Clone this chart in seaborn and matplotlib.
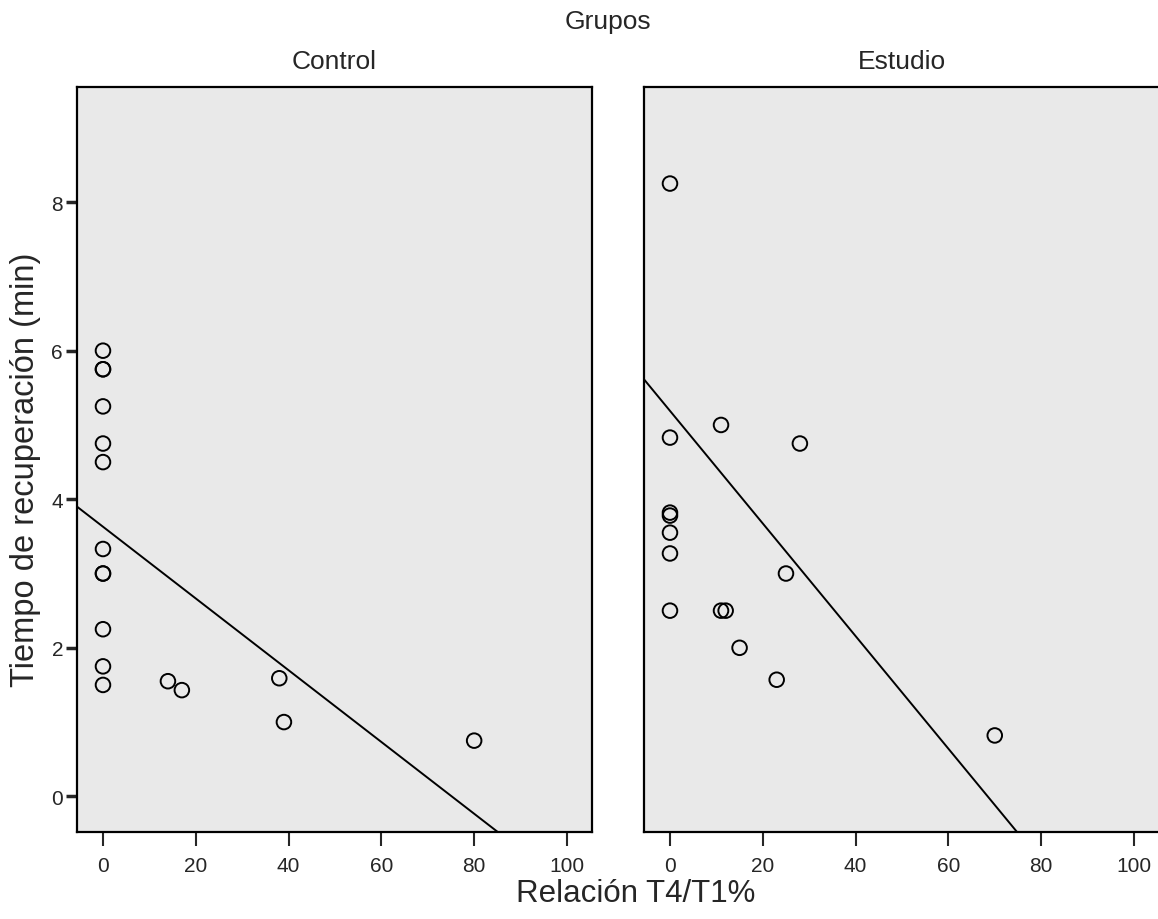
import pandas as pd
import numpy as np
import matplotlib
matplotlib.use('Agg')
import matplotlib.pyplot as plt
import seaborn as sns

# datos
control_x = [0, 0, 0, 0, 0, 0, 0, 0, 0, 0, 0, 0, 14, 17, 38, 39, 80]
control_y = [6.0, 5.75, 5.75, 5.25, 4.75, 4.5, 3.33, 3.0, 3.0, 2.25, 1.75, 1.5,
             1.55, 1.43, 1.59, 1.0, 0.75]
estudio_x = [0, 0, 0, 0, 0, 0, 0, 11, 11, 12, 28, 25, 15, 23, 70]
estudio_y = [8.25, 4.83, 3.82, 3.78, 3.55, 3.27, 2.5, 5.0, 2.5, 2.5, 4.75, 3.0,
             2.0, 1.57, 0.82]

grupos = ['Control', 'Estudio']
# recta de ajuste de cada grupo (intercepto, pendiente)
fit_intercept = [3.63, 5.19]
fit_slope = [-0.0483, -0.0758]

xticks = [0, 20, 40, 60, 80, 100]
yticks = [0, 2, 4, 6, 8]

df = pd.DataFrame({
    'grupo': ['Control'] * len(control_x) + ['Estudio'] * len(estudio_x),
    'relacion': control_x + estudio_x,
    'tiempo': control_y + estudio_y,
})

sns.set_style('white')
plt.rcParams['font.family'] = ['Liberation Sans', 'DejaVu Sans']

fig = plt.figure(figsize=(11.58, 9.2), dpi=100)
W, H = 1158, 920
ax1 = fig.add_axes([77 / W, 87 / H, 515 / W, 745 / H])
ax2 = fig.add_axes([644 / W, 87 / H, 515 / W, 745 / H])
axes = [ax1, ax2]

for i, (ax, g) in enumerate(zip(axes, grupos)):
    sub = df[df['grupo'] == g]
    ax.set_facecolor('#e9e9e9')
    sns.scatterplot(data=sub, x='relacion', y='tiempo', ax=ax, marker='o',
                    s=110, facecolor='none', edgecolor='black', linewidth=1.4,
                    zorder=3)
    ax.axline((0, fit_intercept[i]), slope=fit_slope[i], color='black',
              linewidth=1.4, zorder=2)
    ax.set_xlim(-5.6, 105.4)
    ax.set_ylim(-0.48, 9.55)
    ax.set_xticks(xticks)
    ax.set_yticks(yticks)
    ax.set_xlabel('')
    ax.set_ylabel('')
    for sp in ax.spines.values():
        sp.set_color('black')
        sp.set_linewidth(1.6)
    ax.tick_params(axis='x', direction='out', length=10, width=1.5,
                   labelsize=15, pad=7, bottom=True)
    ax.tick_params(axis='y', direction='out', length=8, width=2.5,
                   labelsize=15, pad=2, left=True)
    ax.set_title(g, fontsize=19, pad=14)

ax2.tick_params(axis='y', left=False, labelleft=False)

fig.text(608 / W, 1 - 22 / H, 'Grupos', ha='center', va='center', fontsize=19)
fig.text(636 / W, 1 - 894 / H, 'Relación T4/T1%', ha='center', va='center',
         fontsize=22.5)
fig.text(26 / W, 1 - 470 / H, 'Tiempo de recuperación (min)', ha='center',
         va='center', rotation=90, fontsize=23.5)

fig.savefig('out.png', dpi=100)
